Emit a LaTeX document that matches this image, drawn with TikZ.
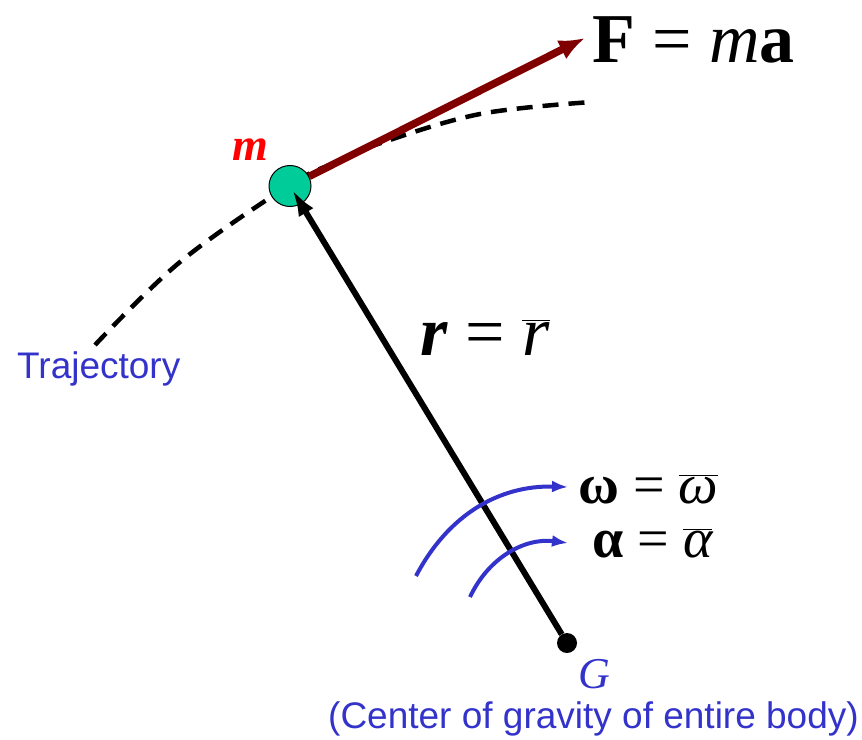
\documentclass[tikz,border=0pt]{standalone}
\usepackage{fontspec}
\setmainfont{Liberation Serif}
\setsansfont{Liberation Sans}
\usetikzlibrary{arrows.meta,shapes.geometric}
\definecolor{traj}{RGB}{51,51,204}
\definecolor{force}{RGB}{128,0,0}
\definecolor{massfill}{RGB}{0,204,153}
\begin{document}
\begin{tikzpicture}[x=1pt,y=-1pt]
        \tikzset{
            lbl/.style={anchor=base west, inner sep=0pt},
            bluetext/.style={lbl, text=traj, font=\sffamily\fontsize{37}{40}\selectfont},
            eqn/.style={lbl, font=\fontsize{70}{80}\selectfont},
            greq/.style={lbl, font=\fontsize{56}{62}\selectfont},
            dashline/.style={dash pattern=on 16pt off 10pt, line width=4.5pt},
            spin/.style={-{Latex[length=16pt,width=12pt]}, traj, line width=4pt}
        }
        \useasboundingbox (0,0) rectangle (862,739);

        % trajectory
        \draw[dashline] plot[smooth, tension=0.6] coordinates {(95,345) (180,262) (288,186) (334,163) (378,144) (480,114) (592,102)};

        \node[draw=black, line width=1pt, fill=massfill, ellipse, minimum width=42pt, minimum height=41pt, inner sep=0pt] (mass) at (290,186) {};
        \node[circle, fill=black, minimum size=20pt, inner sep=0pt] (G) at (567,643) {};
        \coordinate (Ftip) at (585,38);

        \draw[-{Latex[length=26pt,width=21pt]}, force, line width=7.5pt] (mass) -- (Ftip);
        \draw[-{Latex[length=27pt,width=17pt]}, line width=6pt, shorten >=4pt] (G) -- (mass.center);

        % rotation arrows
        \coordinate (w0) at (416,576);
        \coordinate (w1) at (568,487);
        \coordinate (a0) at (470,597);
        \coordinate (a1) at (568,543);
        \draw[spin] (w0) to[bend left=32] (w1);
        \draw[spin] (a0) to[bend left=36] (a1);

        % labels
        \node[eqn] (Flbl) at (592,62) {\textbf{F} = \textit{m}\textbf{a}};
        \node[eqn] (rlbl) at (420,355) {\textbf{\textit{r}} = $\overline{\hbox{\itshape r}}$};
        \node[greq] (wlbl) at (578,503) {\textbf{ω} = $\overline{\hbox{\itshape ω}}$};
        \node[greq] (albl) at (592,557) {\textbf{α} = $\overline{\hbox{\itshape α}}$};
        \node[lbl, text=red, font=\bfseries\itshape\fontsize{46}{50}\selectfont] (mlbl) at (232,160) {m};
        \node[bluetext] (tlbl) at (17,378) {Trajectory};
        \node[lbl, text=traj, font=\itshape\fontsize{44}{48}\selectfont] (Glbl) at (578,688) {G};
        \node[bluetext] (cglbl) at (328,728) {(Center of gravity of entire body)};
    \end{tikzpicture}
\end{document}
